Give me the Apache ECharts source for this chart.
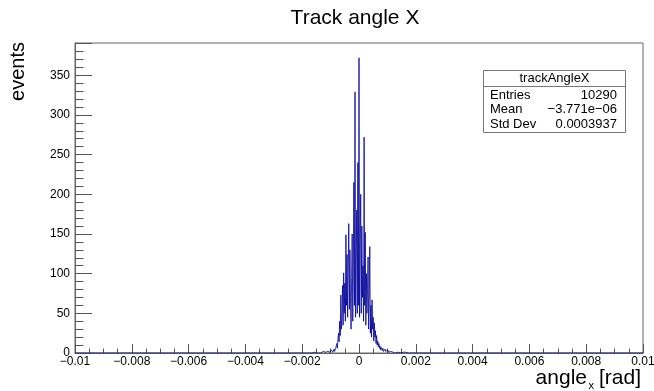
<!DOCTYPE html>
<html>
<head>
<meta charset="utf-8">
<script src="https://cdn.jsdelivr.net/npm/echarts@6/dist/echarts.min.js"></script>
<style>
html,body{margin:0;padding:0;background:#fff;}
#c{width:654px;height:391px;}
</style>
</head>
<body>
<div id="c"></div>
<script>
// Histogram binning: bins of width 0.00002 starting at -0.002
var binStart = -0.002;
var binWidth = 0.00002;
var rangeMin = -0.01;
var rangeMax = 0.01;

// left tail: -0.002 .. -0.0008
var countsLeftTail = [
  0,0,0,1,0,0,0,0,1,0,0,0,0,0,1,0,0,1,0,0,
  0,1,0,0,1,0,1,0,0,1,1,0,2,0,1,1,0,2,1,0,
  2,1,1,3,0,2,1,2,3,1,2,4,2,3,1,3,5,2,4,6
];
// core: -0.0008 .. 0.0008
var countsCore = [
  8,12,6,18,25,14,40,22,73,30,
  45,85,35,101,50,88,40,149,60,124,
  45,110,163,55,130,70,30,95,150,40,
  100,215,60,329,45,120,180,50,240,60,
  372,45,140,200,50,160,70,110,40,272,
  60,152,35,100,50,80,121,30,70,134,
  25,60,20,67,30,45,15,38,20,28,
  12,22,10,15,8,12,6,9,4,7
];
// right tail: 0.0008 .. 0.002
var countsRightTail = [
  5,3,6,2,4,3,5,2,1,3,2,4,1,2,3,1,2,0,1,2,
  1,0,1,2,0,1,0,1,1,0,0,1,0,0,1,0,0,0,1,0,
  0,0,1,0,0,0,0,1,0,0,0,0,0,0,1,0,0,0,0,0
];

var yTicks = [0,50,100,150,200,250,300,350];
var xTicks = [-0.01,-0.008,-0.006,-0.004,-0.002,0,0.002,0.004,0.006,0.008,0.01];

var statsTitle = 'trackAngleX';
var statsNames = ['Entries','Mean','Std Dev'];
var statsValues = ['10290','\u22123.771e\u221206','0.0003937'];

var counts = countsLeftTail.concat(countsCore, countsRightTail);
var peak = Math.max.apply(null, counts);

var pts = [[rangeMin, 0]];
for (var i = 0; i < counts.length; i++) {
  pts.push([binStart + i * binWidth, counts[i]]);
}
pts.push([binStart + counts.length * binWidth, 0]);
pts.push([rangeMax, 0]);

var FONT = '"Liberation Sans", Arial, Helvetica, sans-serif';

var chart = echarts.init(document.getElementById('c'), null, {renderer: 'canvas'});

function fmtX(v) {
  var r = Math.round(v * 1e5) / 1e5;
  if (r === 0) return '0';
  return (r < 0 ? '\u2212' : '') + String(Math.abs(r));
}

var graphics = [
  {type: 'text', x: 355, y: 18, style: {text: 'Track angle X', font: '21px ' + FONT, fill: '#000', align: 'center', verticalAlign: 'middle'}, z: 10},
  {type: 'text', x: 18, y: 42, rotation: Math.PI / 2,
    style: {text: 'events', font: '20px ' + FONT, fill: '#000', align: 'right', verticalAlign: 'middle'}, z: 10},
  {type: 'text', x: 641, y: 378, style: {text: '[rad]', font: '21px ' + FONT, fill: '#000', align: 'right', verticalAlign: 'middle'}, z: 10},
  {type: 'text', x: 594, y: 386, style: {text: 'x', font: '11px ' + FONT, fill: '#000', align: 'right', verticalAlign: 'middle'}, z: 10},
  {type: 'text', x: 587, y: 378, style: {text: 'angle', font: '21px ' + FONT, fill: '#000', align: 'right', verticalAlign: 'middle'}, z: 10},
  {type: 'rect', shape: {x: 483.5, y: 70.5, width: 142, height: 62}, style: {fill: '#fff', stroke: '#777', lineWidth: 1}, z: 20},
  {type: 'line', shape: {x1: 483.5, y1: 86.5, x2: 625.5, y2: 86.5}, style: {stroke: '#777', lineWidth: 1}, z: 21},
  {type: 'text', x: 554.5, y: 78.5, style: {text: statsTitle, font: '13px ' + FONT, fill: '#000', align: 'center', verticalAlign: 'middle'}, z: 21}
];
var rowY = [95, 109.5, 124];
for (var k = 0; k < statsNames.length; k++) {
  graphics.push({type: 'text', x: 490, y: rowY[k], style: {text: statsNames[k], font: '13px ' + FONT, fill: '#000', align: 'left', verticalAlign: 'middle'}, z: 21});
  graphics.push({type: 'text', x: 617, y: rowY[k], style: {text: statsValues[k], font: '13px ' + FONT, fill: '#000', align: 'right', verticalAlign: 'middle'}, z: 21});
}

chart.setOption({
  animation: false,
  backgroundColor: '#fff',
  grid: {left: 75, right: 11, top: 43, bottom: 38, show: true, borderColor: '#666', borderWidth: 1, containLabel: false, outerBoundsMode: 'none'},
  xAxis: {
    type: 'value', min: rangeMin, max: rangeMax, interval: xTicks[1] - xTicks[0],
    axisLine: {show: true, onZero: false, lineStyle: {color: '#666'}},
    axisTick: {show: true, inside: true, length: 9, lineStyle: {color: '#555'}},
    minorTick: {show: true, splitNumber: 4, length: 4.5, lineStyle: {color: '#555'}},
    splitLine: {show: false},
    axisLabel: {margin: 3, color: '#000', fontFamily: FONT, fontSize: 12, formatter: fmtX}
  },
  yAxis: {
    type: 'value', min: 0, max: peak * 1.05, interval: yTicks[1] - yTicks[0],
    axisLine: {show: true, onZero: false, lineStyle: {color: '#666'}},
    axisTick: {show: true, inside: true, length: 17, lineStyle: {color: '#555'}},
    minorTick: {show: true, splitNumber: 5, length: 8.5, lineStyle: {color: '#555'}},
    splitLine: {show: false},
    axisLabel: {margin: 5, color: '#000', fontFamily: FONT, fontSize: 12, showMaxLabel: false}
  },
  series: [{
    type: 'line', step: 'end', data: pts, symbol: 'none', showSymbol: false,
    lineStyle: {color: '#000099', width: 1, opacity: 0.8}, itemStyle: {color: '#000099'}, z: 5
  }],
  graphic: graphics
});
</script>
</body>
</html>
